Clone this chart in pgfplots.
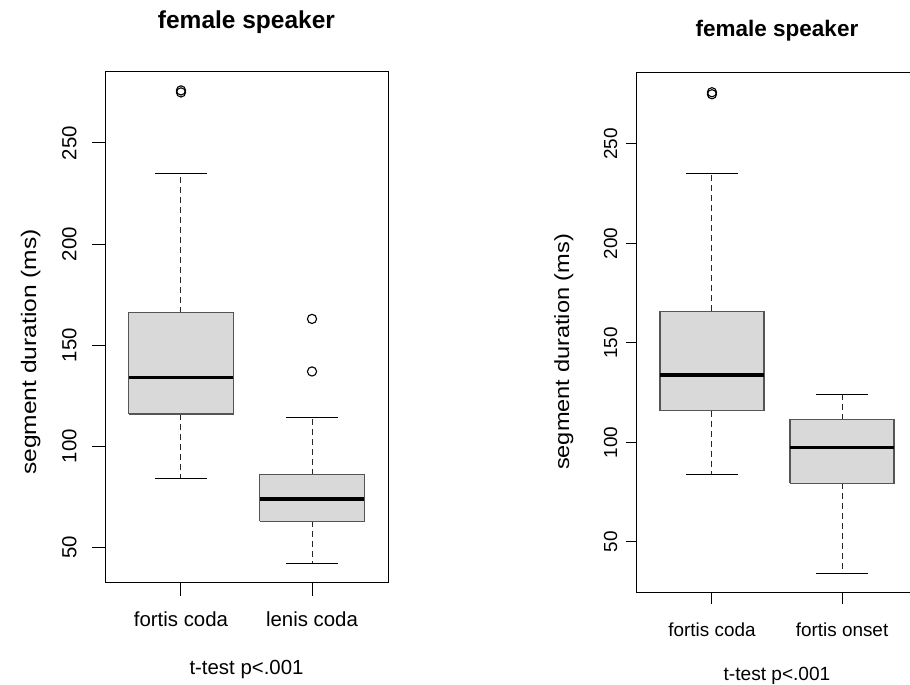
\documentclass[border=0pt]{standalone}
\usepackage{fontspec}
\setmainfont{Liberation Sans}
\usepackage{pgfplots}
\pgfplotsset{compat=1.18}

\definecolor{boxfill}{HTML}{D9D9D9}
\definecolor{boxline}{HTML}{555555}

\pgfplotsset{
  rbox/.style={
    scale only axis,
    anchor=south west,
    xmin=0.42, xmax=2.58,
    xtick={1,2},
    ytick={50,100,150,200,250},
    xtick pos=bottom,
    ytick pos=left,
    tick align=outside,
    every axis title shift=0pt,
    axis line style={line width=1pt},
    major tick style={line width=1pt, black},
    /pgf/number format/assume math mode=true,
  },
  box/.style={draw=boxline, fill=boxfill, line width=1.2pt},
  med/.style={black, line width=3.5pt},
  whisk/.style={black!85, line width=1pt, dash pattern=on 6pt off 4pt},
  cap/.style={black, line width=1pt},
  outl/.style={only marks, mark=o, mark size=4.6pt, black, mark options={line width=1.1pt}},
}

\begin{document}
\begin{tikzpicture}
\useasboundingbox (0,0) rectangle (910pt,685pt);

% left panel: fortis coda vs lenis coda
\begin{axis}[
  rbox,
  at={(105pt,102.5pt)},
  width=283pt, height=511pt,
  ymin=32.64, ymax=285.36,
  major tick length=13pt,
  xticklabels={fortis coda, lenis coda},
  xticklabel style={font=\fontsize{20.4}{24}\selectfont, anchor=base, yshift=-31.2pt},
  yticklabel style={font=\fontsize{20.4}{24}\selectfont, xshift=-15.5pt, rotate=90, anchor=base},
  title={female speaker},
  title style={font=\bfseries\fontsize{24.5}{29}\selectfont, at={(axis description cs:0.5,1.0845)}, anchor=base},
  xlabel={t-test p<.001},
  xlabel style={font=\fontsize{20.4}{24}\selectfont, at={(axis description cs:0.5,-0.1800)}, anchor=base},
  ylabel={\scalebox{1.17}[1]{segment duration (ms)}},
  ylabel style={font=\fontsize{21}{25}\selectfont, at={(axis description cs:-0.2438,0.451)}, anchor=base},
]
% fortis coda: whiskers 84/235, quartiles 116/166, median 134
\addplot[whisk] coordinates {(1,166) (1,235)};
\addplot[whisk] coordinates {(1,116) (1,84)};
\addplot[cap] coordinates {(0.8,235) (1.2,235)};
\addplot[cap] coordinates {(0.8,84) (1.2,84)};
\addplot[box] coordinates {(0.6,116) (1.4,116) (1.4,166) (0.6,166) (0.6,116)};
\addplot[med] coordinates {(0.6,134) (1.4,134)};
\addplot[outl] coordinates {(1,275) (1,276)};
% lenis coda: whiskers 42/114, quartiles 63/86, median 74
\addplot[whisk] coordinates {(2,86) (2,114)};
\addplot[whisk] coordinates {(2,63) (2,42)};
\addplot[cap] coordinates {(1.8,114) (2.2,114)};
\addplot[cap] coordinates {(1.8,42) (2.2,42)};
\addplot[box] coordinates {(1.6,63) (2.4,63) (2.4,86) (1.6,86) (1.6,63)};
\addplot[med] coordinates {(1.6,74) (2.4,74)};
\addplot[outl] coordinates {(2,137) (2,163)};
\end{axis}

% right panel: fortis coda vs fortis onset
\begin{axis}[
  rbox,
  at={(636.5pt,92pt)},
  width=281pt, height=520pt,
  ymin=24.32, ymax=285.68,
  major tick length=11pt,
  xticklabels={fortis coda, fortis onset},
  xticklabel style={font=\fontsize{18.9}{22}\selectfont, anchor=base, yshift=-32pt},
  yticklabel style={font=\fontsize{18.9}{22}\selectfont, xshift=-8.5pt, rotate=90, anchor=base},
  title={female speaker},
  title style={font=\bfseries\fontsize{22.5}{27}\selectfont, at={(axis description cs:0.5,1.0698)}, anchor=base},
  xlabel={t-test p<.001},
  xlabel style={font=\fontsize{19.1}{23}\selectfont, at={(axis description cs:0.5,-0.1692)}, anchor=base},
  ylabel={\scalebox{1.15}[1]{segment duration (ms)}},
  ylabel style={font=\fontsize{20.5}{24}\selectfont, at={(axis description cs:-0.2402,0.4635)}, anchor=base},
]
% fortis coda
\addplot[whisk] coordinates {(1,166) (1,235)};
\addplot[whisk] coordinates {(1,116) (1,84)};
\addplot[cap] coordinates {(0.8,235) (1.2,235)};
\addplot[cap] coordinates {(0.8,84) (1.2,84)};
\addplot[box] coordinates {(0.6,116) (1.4,116) (1.4,166) (0.6,166) (0.6,116)};
\addplot[med] coordinates {(0.6,134) (1.4,134)};
\addplot[outl] coordinates {(1,275) (1,276)};
% fortis onset: whiskers 34/124, quartiles 79.5/111.5, median 97.5
\addplot[whisk] coordinates {(2,111.5) (2,124)};
\addplot[whisk] coordinates {(2,79.5) (2,34)};
\addplot[cap] coordinates {(1.8,124) (2.2,124)};
\addplot[cap] coordinates {(1.8,34) (2.2,34)};
\addplot[box] coordinates {(1.6,79.5) (2.4,79.5) (2.4,111.5) (1.6,111.5) (1.6,79.5)};
\addplot[med] coordinates {(1.6,97.5) (2.4,97.5)};
\end{axis}
\end{tikzpicture}
\end{document}
